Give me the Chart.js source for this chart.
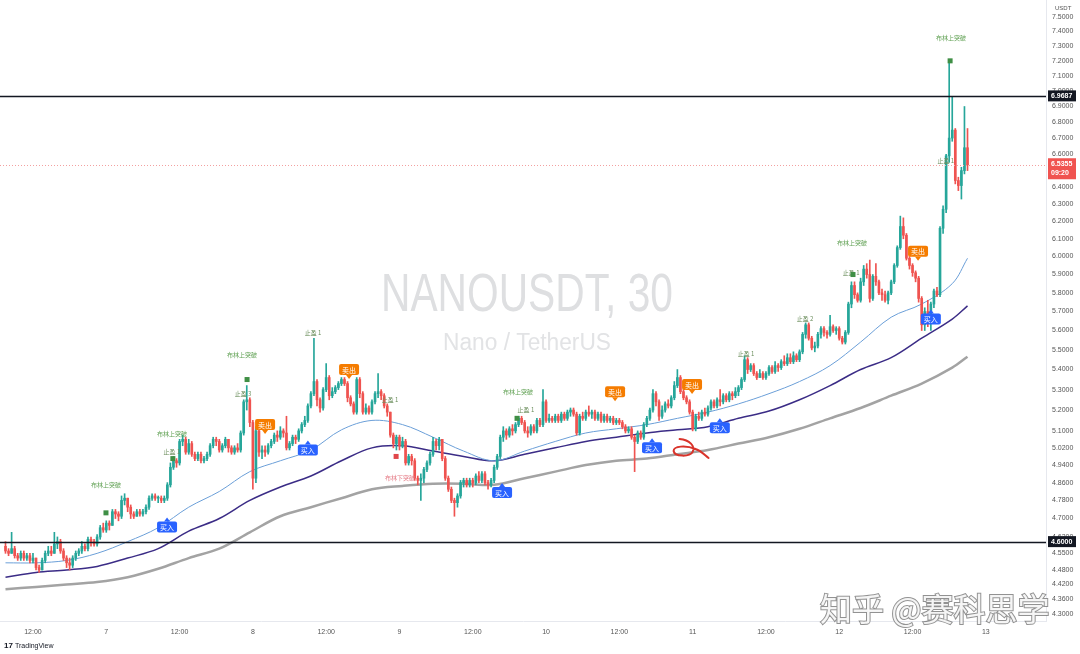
<!DOCTYPE html>
<html>
<head>
<meta charset="utf-8">
<script src="https://cdn.jsdelivr.net/npm/chart.js@4.4.1/dist/chart.umd.min.js"></script>
<style>
    html, body { margin: 0; padding: 0; background: #fff; }
    #wrap { width: 1080px; height: 654px; position: relative; }
</style>
</head>
<body>
<div id="wrap"><canvas id="chart" width="1080" height="654"></canvas></div>
<script>
// 30m candles, index 0 = 6th 07:30
const firstOpen = 4.58;
const closes = [
    4.56, 4.55, 4.57, 4.54, 4.53, 4.55, 4.53, 4.54, 4.52, 4.53,
    4.49, 4.48, 4.52, 4.55, 4.56, 4.55, 4.59, 4.60, 4.56, 4.53,
    4.51, 4.50, 4.53, 4.55, 4.56, 4.58, 4.57, 4.61, 4.60, 4.59,
    4.62, 4.66, 4.65, 4.68, 4.67, 4.73, 4.72, 4.71, 4.78, 4.79,
    4.75, 4.72, 4.71, 4.73, 4.72, 4.73, 4.75, 4.79, 4.80, 4.79,
    4.79, 4.78, 4.79, 4.85, 4.93, 4.96, 4.95, 5.05, 5.06, 5.00,
    5.04, 4.99, 4.97, 4.99, 4.96, 4.97, 4.99, 5.03, 5.06, 5.05,
    5.01, 5.03, 5.06, 5.02, 5.00, 5.02, 5.01, 5.09, 5.24, 5.25,
    5.14, 4.88, 5.10, 5.00, 5.01, 5.00, 5.03, 5.05, 5.08, 5.07,
    5.10, 5.09, 5.02, 5.04, 5.07, 5.06, 5.10, 5.13, 5.15, 5.22,
    5.28, 5.34, 5.25, 5.21, 5.30, 5.36, 5.27, 5.29, 5.31, 5.33,
    5.35, 5.33, 5.26, 5.23, 5.19, 5.35, 5.28, 5.19, 5.21, 5.19,
    5.24, 5.28, 5.29, 5.27, 5.22, 5.19, 5.08, 5.04, 5.07, 5.03,
    5.05, 4.95, 4.98, 4.96, 4.88, 4.87, 4.88, 4.92, 4.95, 4.99,
    5.05, 5.03, 5.06, 4.97, 4.88, 4.83, 4.78, 4.77, 4.80, 4.86,
    4.87, 4.85, 4.87, 4.86, 4.89, 4.87, 4.90, 4.86, 4.85, 4.87,
    4.93, 4.98, 5.07, 5.10, 5.08, 5.11, 5.10, 5.13, 5.16, 5.14,
    5.10, 5.09, 5.12, 5.10, 5.15, 5.13, 5.24, 5.15, 5.16, 5.15,
    5.17, 5.15, 5.18, 5.16, 5.19, 5.20, 5.18, 5.09, 5.17, 5.16,
    5.19, 5.18, 5.19, 5.16, 5.18, 5.15, 5.17, 5.15, 5.16, 5.14,
    5.15, 5.14, 5.12, 5.10, 5.11, 5.07, 5.05, 5.09, 5.07, 5.13,
    5.16, 5.20, 5.28, 5.24, 5.17, 5.20, 5.23, 5.22, 5.26, 5.32,
    5.36, 5.29, 5.26, 5.24, 5.19, 5.11, 5.17, 5.16, 5.19, 5.18,
    5.21, 5.24, 5.22, 5.25, 5.24, 5.27, 5.25, 5.28, 5.27, 5.29,
    5.31, 5.35, 5.45, 5.40, 5.42, 5.38, 5.36, 5.38, 5.36, 5.38,
    5.41, 5.39, 5.42, 5.41, 5.44, 5.43, 5.46, 5.44, 5.47, 5.45,
    5.49, 5.58, 5.63, 5.56, 5.51, 5.52, 5.58, 5.61, 5.59, 5.58,
    5.62, 5.60, 5.61, 5.56, 5.54, 5.59, 5.74, 5.84, 5.79, 5.76,
    5.86, 5.93, 5.90, 5.77, 5.89, 5.86, 5.80, 5.79, 5.76, 5.80,
    5.86, 5.95, 6.05, 6.17, 6.12, 5.99, 5.95, 5.91, 5.88, 5.77,
    5.63, 5.70, 5.65, 5.74, 5.81, 5.79, 6.16, 6.27, 6.59, 6.70,
    6.75, 6.44, 6.41, 6.50, 6.64, 6.5355
];
const highs = [
    4.60, 4.57, 4.64, 4.58, 4.55, 4.56, 4.56, 4.55, 4.55, 4.55,
    4.53, 4.50, 4.53, 4.56, 4.58, 4.58, 4.64, 4.62, 4.61, 4.57,
    4.54, 4.53, 4.54, 4.56, 4.57, 4.60, 4.59, 4.62, 4.62, 4.61,
    4.63, 4.67, 4.68, 4.69, 4.69, 4.74, 4.74, 4.73, 4.80, 4.81,
    4.79, 4.76, 4.73, 4.74, 4.74, 4.74, 4.76, 4.80, 4.81, 4.81,
    4.80, 4.80, 4.80, 4.86, 4.95, 4.98, 4.97, 5.06, 5.08, 5.07,
    5.06, 5.05, 5.00, 5.00, 5.00, 4.98, 5.00, 5.04, 5.07, 5.07,
    5.06, 5.04, 5.07, 5.06, 5.03, 5.03, 5.04, 5.10, 5.25, 5.32,
    5.26, 5.15, 5.12, 5.11, 5.03, 5.03, 5.04, 5.06, 5.09, 5.10,
    5.12, 5.11, 5.17, 5.05, 5.08, 5.08, 5.11, 5.14, 5.17, 5.23,
    5.29, 5.56, 5.35, 5.26, 5.31, 5.43, 5.37, 5.31, 5.32, 5.34,
    5.36, 5.36, 5.34, 5.27, 5.24, 5.36, 5.36, 5.29, 5.23, 5.22,
    5.25, 5.29, 5.38, 5.30, 5.28, 5.23, 5.19, 5.09, 5.08, 5.08,
    5.07, 5.06, 4.99, 4.99, 4.97, 4.89, 4.90, 4.93, 4.96, 5.00,
    5.07, 5.06, 5.07, 5.06, 4.98, 4.89, 4.84, 4.79, 4.81, 4.87,
    4.88, 4.88, 4.88, 4.88, 4.90, 4.91, 4.91, 4.91, 4.87, 4.88,
    4.94, 4.99, 5.08, 5.12, 5.11, 5.12, 5.13, 5.14, 5.17, 5.17,
    5.15, 5.12, 5.13, 5.13, 5.16, 5.16, 5.30, 5.25, 5.18, 5.17,
    5.18, 5.18, 5.19, 5.19, 5.20, 5.21, 5.21, 5.19, 5.18, 5.19,
    5.20, 5.22, 5.20, 5.20, 5.19, 5.19, 5.18, 5.18, 5.17, 5.17,
    5.16, 5.16, 5.15, 5.13, 5.12, 5.12, 5.08, 5.10, 5.10, 5.14,
    5.17, 5.21, 5.30, 5.29, 5.25, 5.22, 5.24, 5.25, 5.27, 5.34,
    5.40, 5.37, 5.30, 5.27, 5.25, 5.20, 5.18, 5.19, 5.20, 5.21,
    5.22, 5.25, 5.25, 5.26, 5.30, 5.28, 5.28, 5.29, 5.29, 5.31,
    5.32, 5.36, 5.47, 5.46, 5.43, 5.43, 5.39, 5.40, 5.39, 5.39,
    5.42, 5.42, 5.44, 5.43, 5.45, 5.47, 5.48, 5.48, 5.49, 5.48,
    5.50, 5.59, 5.64, 5.64, 5.57, 5.54, 5.59, 5.62, 5.62, 5.60,
    5.68, 5.63, 5.62, 5.62, 5.57, 5.60, 5.75, 5.86, 5.86, 5.80,
    5.88, 5.95, 5.96, 5.98, 5.90, 5.96, 5.87, 5.82, 5.81, 5.81,
    5.87, 5.96, 6.06, 6.23, 6.22, 6.13, 6.00, 5.96, 5.92, 5.89,
    5.78, 5.72, 5.76, 5.75, 5.82, 5.83, 6.17, 6.29, 6.60, 7.21,
    6.96, 6.76, 6.46, 6.52, 6.90, 6.76
];
const lows = [
    4.55, 4.54, 4.55, 4.53, 4.52, 4.52, 4.52, 4.52, 4.51, 4.51,
    4.48, 4.47, 4.48, 4.51, 4.54, 4.54, 4.55, 4.57, 4.55, 4.52,
    4.49, 4.48, 4.49, 4.52, 4.54, 4.55, 4.56, 4.56, 4.58, 4.58,
    4.58, 4.61, 4.64, 4.64, 4.65, 4.67, 4.70, 4.69, 4.70, 4.76,
    4.73, 4.70, 4.70, 4.71, 4.71, 4.71, 4.72, 4.74, 4.78, 4.78,
    4.77, 4.77, 4.77, 4.78, 4.84, 4.92, 4.93, 4.94, 5.03, 4.99,
    4.99, 4.98, 4.96, 4.96, 4.95, 4.95, 4.96, 4.98, 5.02, 5.03,
    5.00, 5.00, 5.02, 5.00, 4.99, 4.99, 5.00, 5.00, 5.08, 5.20,
    5.12, 4.83, 4.86, 4.98, 4.97, 4.98, 4.99, 5.02, 5.04, 5.05,
    5.06, 5.07, 5.01, 5.01, 5.03, 5.04, 5.05, 5.09, 5.12, 5.14,
    5.21, 5.27, 5.22, 5.19, 5.20, 5.29, 5.25, 5.26, 5.28, 5.30,
    5.32, 5.32, 5.24, 5.22, 5.18, 5.18, 5.26, 5.18, 5.18, 5.18,
    5.18, 5.23, 5.26, 5.25, 5.21, 5.17, 5.07, 5.02, 5.01, 5.01,
    5.02, 4.94, 4.94, 4.94, 4.87, 4.85, 4.78, 4.86, 4.91, 4.94,
    4.98, 5.01, 5.01, 4.96, 4.87, 4.82, 4.77, 4.71, 4.75, 4.79,
    4.84, 4.84, 4.84, 4.84, 4.85, 4.86, 4.86, 4.85, 4.83, 4.84,
    4.86, 4.92, 4.97, 5.05, 5.06, 5.07, 5.08, 5.09, 5.12, 5.13,
    5.09, 5.07, 5.08, 5.09, 5.09, 5.12, 5.12, 5.14, 5.14, 5.14,
    5.14, 5.14, 5.14, 5.15, 5.15, 5.17, 5.17, 5.08, 5.08, 5.15,
    5.15, 5.17, 5.16, 5.15, 5.15, 5.14, 5.14, 5.14, 5.14, 5.13,
    5.13, 5.13, 5.11, 5.09, 5.09, 5.06, 4.91, 5.04, 5.06, 5.06,
    5.12, 5.15, 5.19, 5.22, 5.15, 5.16, 5.19, 5.21, 5.21, 5.25,
    5.31, 5.28, 5.25, 5.23, 5.18, 5.10, 5.10, 5.15, 5.15, 5.17,
    5.17, 5.20, 5.21, 5.21, 5.22, 5.23, 5.24, 5.24, 5.25, 5.26,
    5.27, 5.30, 5.34, 5.38, 5.39, 5.37, 5.35, 5.36, 5.35, 5.35,
    5.37, 5.38, 5.38, 5.39, 5.40, 5.42, 5.42, 5.43, 5.43, 5.44,
    5.44, 5.48, 5.56, 5.55, 5.50, 5.49, 5.51, 5.56, 5.57, 5.56,
    5.57, 5.59, 5.58, 5.55, 5.53, 5.53, 5.58, 5.72, 5.77, 5.75,
    5.75, 5.84, 5.88, 5.75, 5.76, 5.84, 5.79, 5.76, 5.75, 5.74,
    5.79, 5.85, 5.94, 6.04, 6.10, 5.98, 5.93, 5.89, 5.86, 5.75,
    5.60, 5.60, 5.62, 5.60, 5.72, 5.78, 5.78, 6.13, 6.25, 6.55,
    6.68, 6.42, 6.38, 6.33, 6.48, 6.50
];

// moving averages read at every 10th candle
const maIdx = [0, 10, 20, 30, 40, 50, 60, 70, 80, 90, 100, 110, 120, 130, 140, 150, 160,
    170, 180, 190, 200, 210, 220, 230, 240, 250, 260, 270, 280, 290, 300, 310, 315];
const maFast = [4.51, 4.51, 4.52, 4.55, 4.60, 4.66, 4.75, 4.82, 4.91, 4.96, 5.01, 5.105, 5.15,
    5.13, 5.07, 5.005, 4.96, 5.005, 5.05, 5.09, 5.11, 5.13, 5.16, 5.19, 5.23, 5.28, 5.34,
    5.42, 5.54, 5.67, 5.74, 5.85, 5.99];
const maMid = [4.45, 4.47, 4.48, 4.495, 4.53, 4.57, 4.645, 4.70, 4.78, 4.84, 4.89, 4.96, 5.02,
    5.03, 5.005, 4.98, 4.96, 4.99, 5.02, 5.05, 5.07, 5.09, 5.105, 5.12, 5.16, 5.195, 5.25,
    5.32, 5.40, 5.46, 5.56, 5.66, 5.73];
const maSlow = [4.40, 4.41, 4.42, 4.43, 4.45, 4.485, 4.53, 4.57, 4.64, 4.71, 4.75, 4.79, 4.83,
    4.845, 4.855, 4.855, 4.85, 4.88, 4.91, 4.94, 4.96, 4.97, 4.99, 5.01, 5.04, 5.07, 5.11,
    5.16, 5.21, 5.27, 5.33, 5.41, 5.465];

const yTicks = [7.5, 7.4, 7.3, 7.2, 7.1, 7.0, 6.9, 6.8, 6.7, 6.6, 6.5, 6.4, 6.3, 6.2, 6.1, 6.0,
    5.9, 5.8, 5.7, 5.6, 5.5, 5.4, 5.3, 5.2, 5.1, 5.02, 4.94, 4.86, 4.78, 4.70, 4.62, 4.55,
    4.48, 4.42, 4.36, 4.30];
const xTickIdx = [9, 33, 57, 81, 105, 129, 153, 177, 201, 225, 249, 273, 297, 321];
const xTickText = ["12:00", "7", "12:00", "8", "12:00", "9", "12:00", "10", "12:00", "11",
    "12:00", "12", "12:00", "13"];

const levelLines = [6.9687, 4.6];
const lastPrice = 6.5355;
const lastTime = "09:20";

// signals: [candle index, price]
const buySignals = [[52.9, 4.663], [99.0, 5.01], [162.6, 4.815], [211.7, 5.02], [233.9, 5.115], [303.0, 5.66]];
const sellSignals = [[85.0, 5.13], [112.5, 5.40], [199.6, 5.29], [224.8, 5.325], [298.8, 6.03]];
const bandUpText = [[32.9, 4.85], [54.5, 5.085], [77.4, 5.475], [167.8, 5.29], [277.2, 6.08], [309.6, 7.36]];
const bandDownText = [[129.2, 4.88]];
const takeProfit = [[54.5, 5.0, "止盈 1"], [77.8, 5.28, "止盈 3"], [100.7, 5.59, "止盈 1"],
    [125.9, 5.25, "止盈 1"], [170.4, 5.20, "止盈 1"], [242.5, 5.48, "止盈 1"],
    [261.8, 5.66, "止盈 2"], [276.9, 5.91, "止盈 1"], [307.9, 6.56, "止盈 1"]];
const greenMarks = [[32.9, 4.725], [54.8, 4.97], [79.1, 5.35], [167.5, 5.16], [277.5, 5.90], [309.3, 7.20]];
const redMarks = [[127.9, 4.98]];

const UP = "#26a69a", DOWN = "#ef5350";
const opens = closes.map((c, i) => i === 0 ? firstOpen : closes[i - 1]);
const candleColor = closes.map((c, i) => c >= opens[i] ? UP : DOWN);

function fitText(ctx, text, cx, base, width, size, color) {
    ctx.save();
    ctx.font = `${size}px "Liberation Sans", Arial, sans-serif`;
    const w = ctx.measureText(text).width;
    ctx.translate(cx, base);
    ctx.scale(width / w, 1);
    ctx.fillStyle = color;
    ctx.textAlign = "center";
    ctx.textBaseline = "alphabetic";
    ctx.fillText(text, 0, 0);
    ctx.restore();
}

function signalTag(ctx, cx, cy, text, color, pointUp) {
    const w = 20, h = 11;
    ctx.fillStyle = color;
    ctx.beginPath();
    ctx.roundRect(cx - w / 2, cy - h / 2, w, h, 2);
    ctx.fill();
    ctx.beginPath();
    if (pointUp) {
        ctx.moveTo(cx - 3, cy - h / 2); ctx.lineTo(cx + 3, cy - h / 2); ctx.lineTo(cx, cy - h / 2 - 4);
    } else {
        ctx.moveTo(cx - 3, cy + h / 2); ctx.lineTo(cx + 3, cy + h / 2); ctx.lineTo(cx, cy + h / 2 + 4);
    }
    ctx.fill();
    ctx.fillStyle = "#fff";
    ctx.font = '7px "Noto Sans CJK SC", sans-serif';
    ctx.textAlign = "center";
    ctx.textBaseline = "middle";
    ctx.fillText(text, cx, cy + 0.5);
}

function axisBox(ctx, x, y, lines, color) {
    const h = 10 * lines.length + 1;
    ctx.fillStyle = color;
    ctx.fillRect(x, y - 5.5, 28, h);
    ctx.fillStyle = "#fff";
    ctx.font = 'bold 7px "Liberation Sans", Arial, sans-serif';
    ctx.textAlign = "left";
    ctx.textBaseline = "middle";
    lines.forEach((t, i) => ctx.fillText(t, x + 3, y + i * 9.5));
}

const overlay = {
    id: "overlay",
    beforeDatasetsDraw(chart) {
        const ctx = chart.ctx;
        fitText(ctx, "NANOUSDT, 30", 527, 311, 292, 54, "#dedfe1");
        fitText(ctx, "Nano / TetherUS", 527, 350, 168, 23, "#e2e3e5");
    },
    afterDatasetsDraw(chart) {
        const { ctx, chartArea: a, scales: { x, y } } = chart;
        ctx.save();
        // level lines
        ctx.strokeStyle = "#131722";
        ctx.lineWidth = 1.5;
        levelLines.forEach(v => {
            const py = Math.round(y.getPixelForValue(v)) + 0.5;
            ctx.beginPath(); ctx.moveTo(a.left, py); ctx.lineTo(a.right, py); ctx.stroke();
        });
        // last price line
        ctx.strokeStyle = "#f3a0a0";
        ctx.lineWidth = 1;
        ctx.setLineDash([1, 2]);
        const lp = Math.round(y.getPixelForValue(lastPrice)) + 0.5;
        ctx.beginPath(); ctx.moveTo(a.left, lp); ctx.lineTo(a.right, lp); ctx.stroke();
        ctx.setLineDash([]);

        // hand-drawn mark
        const ax = x.getPixelForValue(224), ay = y.getPixelForValue(5.01);
        ctx.strokeStyle = "#d9342b";
        ctx.lineWidth = 2;
        ctx.lineCap = "round";
        ctx.beginPath();
        ctx.moveTo(ax - 10, ay - 11);
        ctx.bezierCurveTo(ax, ay - 10, ax + 6, ay - 4, ax + 3, ay + 2);
        ctx.bezierCurveTo(ax, ay + 7, ax - 15, ay + 7, ax - 16, ay + 1);
        ctx.bezierCurveTo(ax - 16, ay - 4, ax - 4, ay - 5, ax + 6, ay - 1);
        ctx.bezierCurveTo(ax + 12, ay + 1, ax + 15, ay + 5, ax + 19, ay + 8);
        ctx.stroke();

        ctx.textAlign = "center";
        ctx.textBaseline = "middle";
        ctx.font = '6px "Noto Sans CJK SC", sans-serif';
        ctx.fillStyle = "#5fa052";
        bandUpText.forEach(([i, p]) => ctx.fillText("布林上突破", x.getPixelForValue(i), y.getPixelForValue(p)));
        ctx.fillStyle = "#e57b86";
        bandDownText.forEach(([i, p]) => ctx.fillText("布林下突破", x.getPixelForValue(i), y.getPixelForValue(p)));
        ctx.fillStyle = "#6b8e5c";
        takeProfit.forEach(([i, p, t]) => ctx.fillText(t, x.getPixelForValue(i), y.getPixelForValue(p)));

        ctx.fillStyle = "#3f8f45";
        greenMarks.forEach(([i, p]) => ctx.fillRect(x.getPixelForValue(i) - 2.5, y.getPixelForValue(p) - 2.5, 5, 5));
        ctx.fillStyle = "#e0464a";
        redMarks.forEach(([i, p]) => ctx.fillRect(x.getPixelForValue(i) - 2.5, y.getPixelForValue(p) - 2.5, 5, 5));

        buySignals.forEach(([i, p]) => signalTag(ctx, x.getPixelForValue(i), y.getPixelForValue(p), "买入", "#2962ff", true));
        sellSignals.forEach(([i, p]) => signalTag(ctx, x.getPixelForValue(i), y.getPixelForValue(p), "卖出", "#f57c00", false));
        ctx.restore();
    },
    afterDraw(chart) {
        const { ctx, chartArea: a, scales: { y } } = chart;
        ctx.save();
        levelLines.forEach(v => axisBox(ctx, a.right + 2, y.getPixelForValue(v), [v.toFixed(4)], "#131722"));
        axisBox(ctx, a.right + 2, y.getPixelForValue(lastPrice) - 1, [lastPrice.toFixed(4), lastTime], "#f05350");

        ctx.fillStyle = "#555";
        ctx.font = '6px "Liberation Sans", Arial, sans-serif';
        ctx.textAlign = "left";
        ctx.textBaseline = "middle";
        ctx.fillText("USDT", 1055, 8);

        // TradingView logo
        ctx.fillStyle = "#131722";
        ctx.font = 'bold 8px "Liberation Sans", Arial, sans-serif';
        ctx.fillText("17", 4, 646);
        ctx.font = '7px "Liberation Sans", Arial, sans-serif';
        ctx.fillText("TradingView", 15, 646);

        // site watermark
        ctx.font = '32px "Noto Sans CJK SC", sans-serif';
        ctx.textAlign = "left";
        ctx.textBaseline = "alphabetic";
        ctx.lineWidth = 2;
        ctx.strokeStyle = "rgba(110,110,110,0.75)";
        ctx.strokeText("知乎 @赛科思学", 820, 621);
        ctx.fillStyle = "rgba(250,250,250,0.95)";
        ctx.fillText("知乎 @赛科思学", 820, 621);
        ctx.restore();
    }
};

function main() {
    const wicks = closes.map((c, i) => ({ x: i, y: [lows[i], highs[i]] }));
    const bodies = closes.map((c, i) => ({ x: i, y: [opens[i], c] }));
    const ma = arr => maIdx.map((k, i) => ({ x: k, y: arr[i] }));
    const lineDs = (label, arr, color, width) => ({
        type: "line", label, data: ma(arr), borderColor: color, borderWidth: width,
        pointRadius: 0, pointHoverRadius: 0, tension: 0.35, fill: false, order: 2
    });

    new Chart(document.getElementById("chart"), {
        type: "bar",
        data: {
            datasets: [
                { label: "wick", data: wicks, backgroundColor: candleColor, barThickness: 1, grouped: false, order: 1 },
                { label: "body", data: bodies, backgroundColor: candleColor, barThickness: 2, minBarLength: 1, grouped: false, order: 0 },
                lineDs("MA fast", maFast, "#6b9fd8", 1),
                lineDs("MA mid", maMid, "#3b2c86", 1.5),
                lineDs("MA slow", maSlow, "#a3a3a3", 2.5)
            ]
        },
        options: {
            responsive: false,
            animation: false,
            devicePixelRatio: 1,
            layout: { padding: 0, autoPadding: false },
            plugins: { legend: { display: false }, tooltip: { enabled: false } },
            scales: {
                x: {
                    type: "linear", min: -1.8, max: 340.7, bounds: "data", offset: false,
                    grid: { display: false, drawTicks: false },
                    border: { display: true, color: "#e6e8ee" },
                    ticks: {
                        autoSkip: false, maxRotation: 0, padding: 7,
                        color: "#555", font: { size: 7, family: "Liberation Sans" },
                        callback: v => xTickText[xTickIdx.indexOf(v)] ?? ""
                    },
                    afterBuildTicks: s => { s.ticks = xTickIdx.map(v => ({ value: v })); },
                    afterFit: s => { s.height = 33; s.paddingLeft = 0; s.paddingRight = 0; }
                },
                y: {
                    type: "logarithmic", position: "right", min: 4.272, max: 7.62, bounds: "data",
                    grid: { display: false, drawTicks: false },
                    border: { display: true, color: "#e6e8ee" },
                    ticks: {
                        autoSkip: false, padding: 6,
                        color: "#555", font: { size: 7, family: "Liberation Sans" },
                        callback: v => Number(v).toFixed(4)
                    },
                    afterBuildTicks: s => { s.ticks = yTicks.map(v => ({ value: v })); },
                    afterFit: s => { s.width = 34; s.paddingTop = 0; s.paddingBottom = 0; }
                }
            }
        },
        plugins: [overlay]
    });
}

if (document.readyState === "loading") {
    document.addEventListener("DOMContentLoaded", main);
} else {
    main();
}
</script>
</body>
</html>
